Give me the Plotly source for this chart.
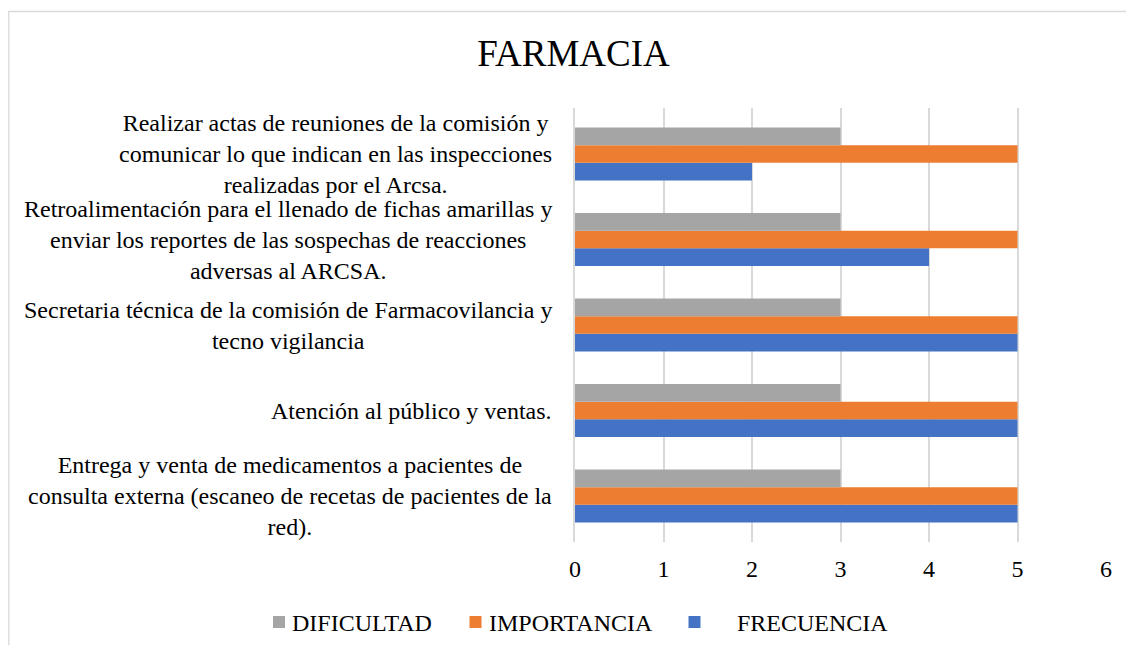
import plotly.graph_objects as go

categories = [
    "Entrega y venta de medicamentos a pacientes de<br>consulta externa (escaneo de recetas de pacientes de la<br>red).",
    "Atención al público y ventas.",
    "Secretaria técnica de la comisión de Farmacovilancia y<br>tecno vigilancia",
    "Retroalimentación para el llenado de fichas amarillas y<br>enviar los reportes de las sospechas de reacciones<br>adversas al ARCSA.",
    "Realizar actas de reuniones de la comisión y<br>comunicar lo que indican en las inspecciones<br>realizadas por el Arcsa.",
]
series_names = ["FRECUENCIA", "IMPORTANCIA", "DIFICULTAD"]
frecuencia = [5, 5, 5, 4, 2]
importancia = [5, 5, 5, 5, 5]
dificultad = [3, 3, 3, 3, 3]
series_colors = ["#4472C4", "#ED7D31", "#A5A5A5"]
x_ticks = [0, 1, 2, 3, 4, 5, 6]

FONT = "Liberation Serif, Times New Roman, serif"
OFF = 8  # page body margin
W, H = 1134 - 2 * OFF, 653 - 2 * OFF
L, T = 575 - OFF, 108 - OFF
R = W - (1106 - OFF)
B = H - (542 - OFF)
pw, ph = W - L - R, H - T - B


def px(xpage):
    return (xpage - OFF - L) / pw


def py(ypage):
    return (H - B - (ypage - OFF)) / ph


fig = go.Figure()
for name, vals, col in zip(series_names, [frecuencia, importancia, dificultad], series_colors):
    fig.add_trace(go.Bar(y=categories, x=vals, orientation="h", name=name,
                         marker=dict(color=col, line=dict(width=0)), showlegend=False))

# Category labels: centred lines, right-aligned block
for c in categories:
    fig.add_annotation(x=0, y=c, xref="x", yref="y", text=c,
                       showarrow=False, xanchor="right", yanchor="middle", align="center",
                       xshift=-21, font=dict(family=FONT, size=24, color="#000000"))

# Legend (drawn to match the original layout)
legend_items = [("DIFICULTAD", "#A5A5A5", 273, 290),
                ("IMPORTANCIA", "#ED7D31", 469.5, 486.5),
                ("FRECUENCIA", "#4472C4", 688.5, 735)]
shapes = []
for name, col, sx, tx in legend_items:
    shapes.append(dict(type="rect", xref="paper", yref="paper",
                       x0=px(sx), x1=px(sx + 12), y0=py(628), y1=py(616),
                       line=dict(width=0), fillcolor=col))
    fig.add_annotation(x=px(tx), y=py(622.5), xref="paper", yref="paper", text=name,
                       showarrow=False, xanchor="left", yanchor="middle",
                       font=dict(family=FONT, size=24, color="#000000"))

shapes.append(dict(type="rect", xref="paper", yref="paper",
                   x0=px(OFF + 0.8), x1=px(1134 + 20), y0=py(700), y1=py(11.5),
                   line=dict(color="#d9d9d9", width=1.3), fillcolor="rgba(0,0,0,0)", layer="below"))

fig.update_layout(
    width=W, height=H,
    margin=dict(l=L, r=R, t=T, b=B, autoexpand=False),
    paper_bgcolor="white", plot_bgcolor="white",
    barmode="group", bargap=0.38, bargroupgap=0,
    showlegend=False,
    title=dict(text="FARMACIA", x=(573.5 - OFF) / W, xref="container", xanchor="center",
               y=1 - (53.5 - OFF) / H, yref="container", yanchor="middle",
               font=dict(family=FONT, size=37, color="#000000")),
    xaxis=dict(range=[0, 6], tickvals=x_ticks, showgrid=True, gridcolor="#d9d9d9", gridwidth=1.5,
               zeroline=False, showline=False, ticks="", ticklabelstandoff=10,
               tickfont=dict(family=FONT, size=24, color="#000000")),
    yaxis=dict(showticklabels=False, showgrid=False, zeroline=False, ticks="",
               showline=True, linecolor="#d9d9d9", linewidth=1.5),
    shapes=shapes,
)

fig.write_html("out.html")
